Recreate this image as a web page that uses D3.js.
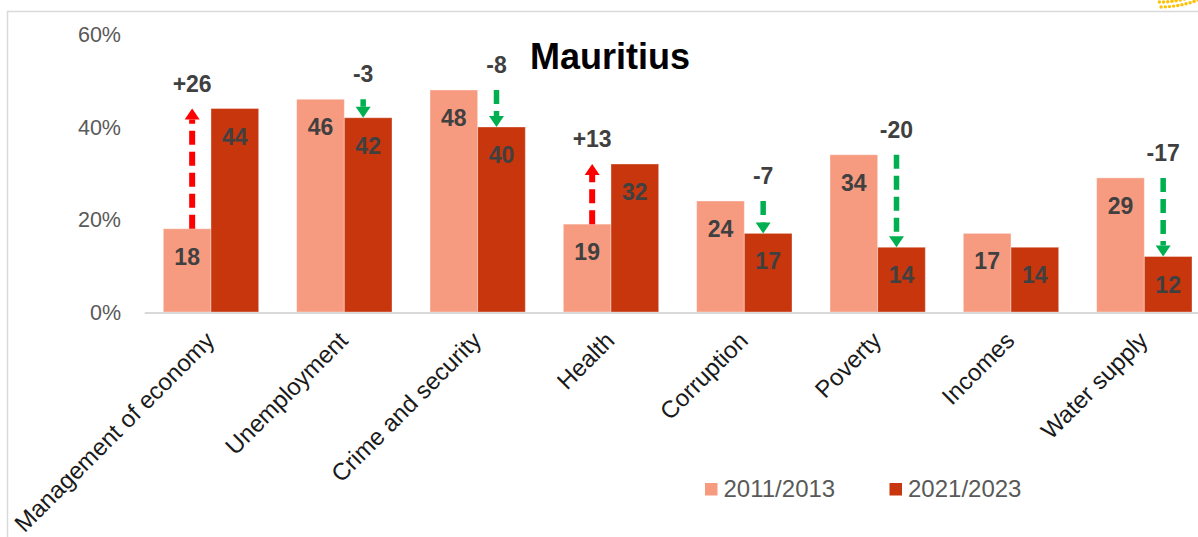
<!DOCTYPE html>
<html>
<head>
<meta charset="utf-8">
<script src="https://cdn.jsdelivr.net/npm/d3@7"></script>
<style>
  html, body { margin: 0; padding: 0; background: #ffffff; }
  svg { display: block; }
  text { font-family: "Liberation Sans", Arial, sans-serif; }
</style>
</head>
<body>
<svg id="chart" width="1198" height="537"></svg>
<script>
// Most important problems, share of respondents (%)
const categories = ["Management of economy", "Unemployment", "Crime and security", "Health",
                    "Corruption", "Poverty", "Incomes", "Water supply"];
const seriesNames = ["2011/2013", "2021/2023"];
const values2011 = [18, 46, 48, 19, 24, 34, 17, 29];
const values2021 = [44, 42, 40, 32, 17, 14, 14, 12];
// Change in percentage points between the two rounds (no change shown for Incomes)
const changes = [26, -3, -8, 13, -7, -20, null, -17];
const yTicks = [0, 20, 40, 60];
const title = "Mauritius";

const colors = { s1: "#F79B80", s2: "#C7360D", up: "#FF0000", down: "#00B050" };

const svg = d3.select("#chart");

// Frame
svg.append("path")
  .attr("d", "M7.5,537 V11.5 H1198")
  .attr("fill", "none").attr("stroke", "#d9d9d9").attr("stroke-width", 1.5);

// Corner ornament: dotted arcs
const orn = svg.append("g").attr("fill", "#FFC000");
[102, 107].forEach(r => {
  const cx = 1160, cy = -100, step = 4.2 / r;
  for (let a = Math.PI / 2 - 0.5; a <= Math.PI / 2 + 0.5; a += step) {
    const px = cx - r * Math.cos(a), py = cy + r * Math.sin(a);
    if (px > 1158 && px < 1199 && py > -1.5) {
      orn.append("circle").attr("cx", px).attr("cy", py).attr("r", 1.7);
    }
  }
});

// Scales
const x = d3.scaleBand().domain(categories).range([144.33, 1211])
  .paddingInner(0.285).paddingOuter(0.1425);
const xs = d3.scaleBand().domain(seriesNames).range([0, x.bandwidth()]);
const y = d3.scaleLinear().domain([0, 60]).range([312, 34.5]);

// Y axis labels
svg.append("g").selectAll("text").data(yTicks).join("text")
  .attr("x", 121).attr("y", d => y(d) + 7.5)
  .attr("text-anchor", "end")
  .attr("font-size", 21.5).attr("fill", "#595959")
  .text(d => d + "%");

// Bars
const rows = categories.map((c, i) => ({ c, v: [values2011[i], values2021[i]], d: changes[i] }));
const groups = svg.append("g").selectAll("g").data(rows).join("g")
  .attr("transform", d => `translate(${x(d.c)},0)`);

groups.selectAll("rect").data(d => d.v.map((v, k) => ({ k, v }))).join("rect")
  .attr("x", d => xs(seriesNames[d.k]))
  .attr("width", xs.bandwidth())
  .attr("y", d => y(d.v))
  .attr("height", d => y(0) - y(d.v))
  .attr("fill", d => d.k === 0 ? colors.s1 : colors.s2)
  .attr("stroke", "#ffffff").attr("stroke-opacity", 0.35).attr("stroke-width", 1);

// Value labels inside bar tops
groups.selectAll("text.val").data(d => d.v.map((v, k) => ({ k, v }))).join("text")
  .attr("class", "val")
  .attr("x", d => xs(seriesNames[d.k]) + xs.bandwidth() / 2)
  .attr("y", d => y(d.v) + 36)
  .attr("text-anchor", "middle")
  .attr("font-size", 23).attr("font-weight", "bold").attr("fill", "#404040")
  .text(d => d.v);

// Axis baseline
svg.append("line")
  .attr("x1", 144.7).attr("x2", 1198).attr("y1", y(0) + 1).attr("y2", y(0) + 1)
  .attr("stroke", "#d9d9d9").attr("stroke-width", 2);

// Change arrows and labels
const arrows = groups.filter(d => d.d !== null).append("g");
arrows.each(function (d) {
  const g = d3.select(this);
  const rising = d.d > 0;
  const col = rising ? colors.up : colors.down;
  const ax = rising ? xs(seriesNames[0]) + xs.bandwidth() / 2 + 5
                    : xs(seriesNames[1]) + xs.bandwidth() / 2 - 5;
  const y0 = y(d.v[0]), y1 = y(d.v[1]);
  const headH = 11, headW = 15;
  const base = rising ? y1 + headH : y1 - headH;
  g.append("line")
    .attr("x1", ax).attr("x2", ax).attr("y1", y0).attr("y2", base)
    .attr("stroke", col).attr("stroke-width", rising ? 6 : 5.5)
    .attr("stroke-dasharray", "14,7");
  g.append("path")
    .attr("d", `M${ax - headW / 2},${base} L${ax + headW / 2},${base} L${ax},${y1} Z`)
    .attr("fill", col);
  g.append("text")
    .attr("x", ax).attr("y", Math.min(y0, y1) - 17)
    .attr("text-anchor", "middle")
    .attr("font-size", 23).attr("font-weight", "bold")
    .attr("fill", "#404040")
    .text((d.d > 0 ? "+" : "") + d.d);
});

// Category labels
svg.append("g").selectAll("text").data(categories).join("text")
  .attr("transform", c => `translate(${x(c) + x.bandwidth() / 2 + 5},342) rotate(-45)`)
  .attr("text-anchor", "end")
  .attr("font-size", 24).attr("fill", "#1a1a1a")
  .text(c => c);

// Title
svg.append("text")
  .attr("x", 610).attr("y", 69).attr("text-anchor", "middle")
  .attr("font-size", 36).attr("font-weight", "bold").attr("fill", "#000000")
  .text(title);

// Legend
const legendX = [705, 889.5];
const legend = svg.append("g").selectAll("g").data(seriesNames).join("g")
  .attr("transform", (d, i) => `translate(${legendX[i]},483)`);
legend.append("rect").attr("width", 12.5).attr("height", 12.5)
  .attr("fill", (d, i) => i === 0 ? colors.s1 : colors.s2);
legend.append("text").attr("x", 18.5).attr("y", 14)
  .attr("font-size", 24).attr("fill", "#595959")
  .text(d => d);
</script>
</body>
</html>
